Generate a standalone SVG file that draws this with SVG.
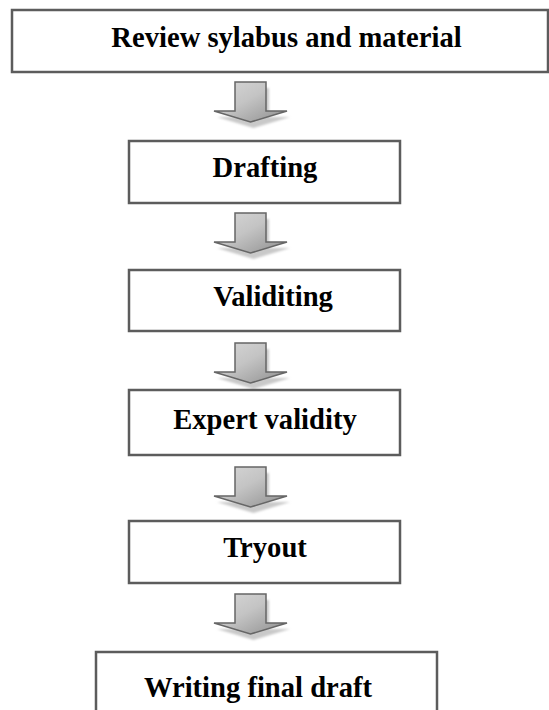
<svg xmlns="http://www.w3.org/2000/svg" xmlns:xlink="http://www.w3.org/1999/xlink" width="549" height="710" viewBox="0 0 549 710">
<style>
.box{fill:#ffffff;stroke:#5c5c5c;stroke-width:2.5}
.lbl{font-family:"Liberation Serif","Times New Roman",serif;font-weight:bold;font-size:28.6px;fill:#000;text-anchor:middle}
</style>
<defs>
<linearGradient id="ag" x1="0" y1="0" x2="1" y2="1">
<stop offset="0" stop-color="#d8d8d8"/>
<stop offset="0.45" stop-color="#c4c4c4"/>
<stop offset="1" stop-color="#8e8e8e"/>
</linearGradient>
<filter id="blur" x="-20%" y="-20%" width="140%" height="140%"><feGaussianBlur stdDeviation="0.8"/></filter>
<g id="arrow">
<path d="M-15.5,0 H15.5 V29 H36.5 L0,40 L-36.5,29 H-15.5 Z" transform="translate(3,6)" fill="#c9c9c9" filter="url(#blur)"/>
<path d="M-15.5,0 H15.5 V29 H36.5 L0,40 L-36.5,29 H-15.5 Z" fill="url(#ag)" stroke="#666" stroke-width="1.5" stroke-linejoin="miter"/>
</g>
</defs>
<g id="connectors">
<use xlink:href="#arrow" x="250.5" y="82"/>
<use xlink:href="#arrow" x="250.5" y="213"/>
<use xlink:href="#arrow" x="250.5" y="343"/>
<use xlink:href="#arrow" x="250.5" y="467"/>
<use xlink:href="#arrow" x="250.5" y="594"/>
</g>
<g id="n1"><rect class="box" x="12" y="10" width="536" height="62"/><text class="lbl" x="286.5" y="47">Review sylabus and material</text></g>
<g id="n2"><rect class="box" x="129" y="141" width="271" height="62"/><text class="lbl" x="265" y="177">Drafting</text></g>
<g id="n3"><rect class="box" x="129" y="270" width="271" height="61"/><text class="lbl" x="273" y="306">Validiting</text></g>
<g id="n4"><rect class="box" x="129" y="390" width="271" height="65"/><text class="lbl" x="265" y="429">Expert validity</text></g>
<g id="n5"><rect class="box" x="129" y="521" width="271" height="62"/><text class="lbl" x="265" y="557">Tryout</text></g>
<g id="n6"><rect class="box" x="96" y="652" width="341" height="70"/><text class="lbl" x="258" y="697">Writing final draft</text></g>
</svg>
